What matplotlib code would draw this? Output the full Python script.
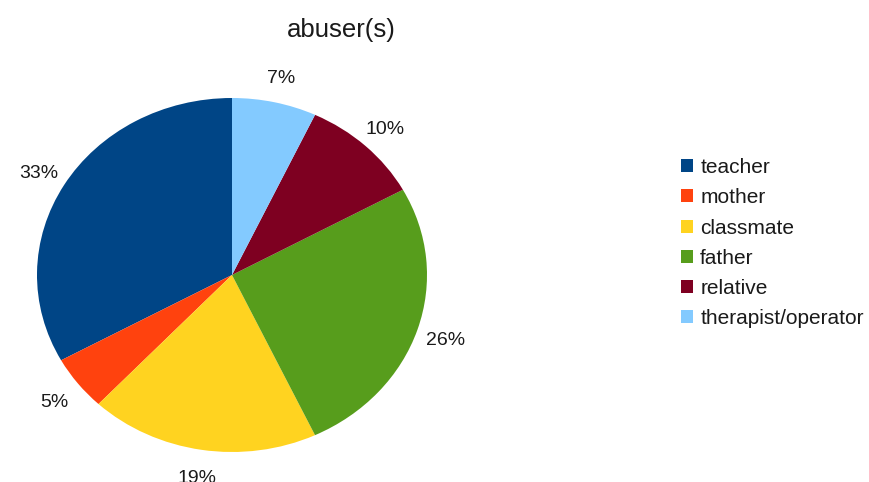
import numpy as np
import matplotlib
matplotlib.use("Agg")
import matplotlib.pyplot as plt

categories = ["teacher", "mother", "classmate", "father", "relative", "therapist/operator"]
shares = [33, 5, 19, 26, 10, 7]
colors = ["#004586", "#ff420e", "#ffd320", "#579d1c", "#7e0021", "#83caff"]
title = "abuser(s)"

plt.rcParams["font.family"] = ["Liberation Sans", "DejaVu Sans"]

W, H = 870, 482
fig = plt.figure(figsize=(W / 100, H / 100), dpi=100)

# elliptical pie: unit circle stretched into a 390 x 354 px box
cx, cy, rx, ry = 232, 275, 195, 177
ax = fig.add_axes([(cx - rx) / W, (H - cy - ry) / H, 2 * rx / W, 2 * ry / H])
wedges, _ = ax.pie(
    shares, colors=colors, startangle=90, counterclock=True,
    radius=1.0, wedgeprops=dict(linewidth=0),
)
ax.set_aspect("auto")
ax.set_xlim(-1, 1)
ax.set_ylim(-1, 1)
ax.axis("off")

# percentage labels just outside each wedge, vertically centred on the digits
label_r = 1.15
for w, v in zip(wedges, shares):
    mid = np.deg2rad((w.theta1 + w.theta2) / 2)
    ax.annotate(f"{v}%", (label_r * np.cos(mid), label_r * np.sin(mid)),
                xytext=(0, -5), textcoords="offset points",
                ha="center", va="baseline", fontsize=14, color="#1a1a1a",
                annotation_clip=False)

fig.text(341 / W, 1 - 37 / H, title, ha="center", va="baseline",
         fontsize=18.5, color="#1a1a1a")

fig.legend(
    wedges, categories, loc="upper left",
    bbox_to_anchor=(681 / W, 1 - 158 / H), frameon=False,
    fontsize=15, handlelength=0.58, handleheight=0.58, handletextpad=0.34,
    labelspacing=0.54, borderaxespad=0, borderpad=0,
    labelcolor="#1a1a1a",
)

fig.savefig("out.png", dpi=100)
